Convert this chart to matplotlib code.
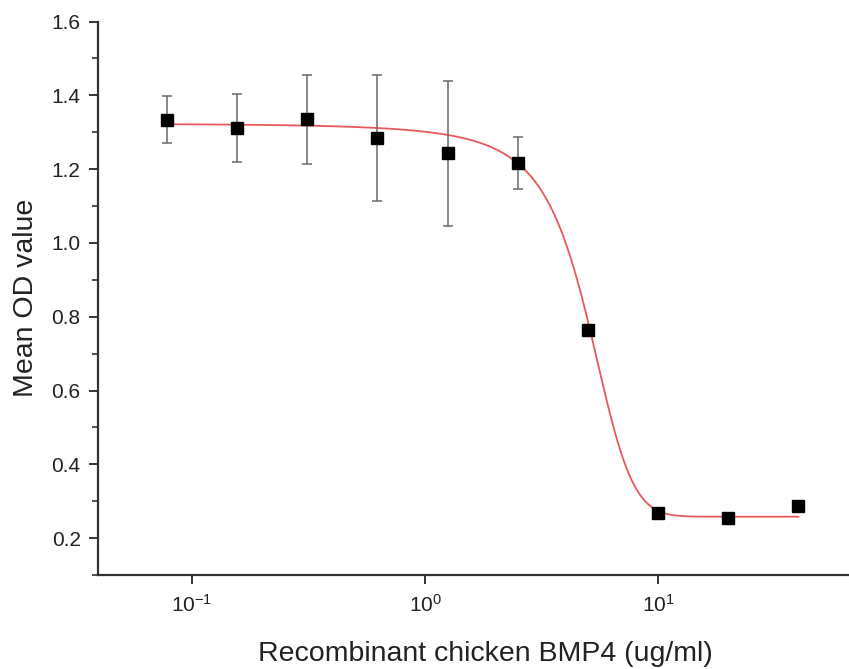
import numpy as np
import matplotlib
matplotlib.use("Agg")
import matplotlib.pyplot as plt
from matplotlib.ticker import NullLocator, MultipleLocator, LogLocator, FormatStrFormatter

# ---- data ----
conc = [0.078125, 0.15625, 0.3125, 0.625, 1.25, 2.5, 5, 10, 20, 40]
mean_od = [1.334, 1.311, 1.335, 1.284, 1.243, 1.217, 0.763, 0.269, 0.255, 0.287]
sd_od = [0.064, 0.092, 0.120, 0.171, 0.197, 0.070, 0.012, 0.008, 0.006, 0.006]

# Boltzmann sigmoid fit parameters (estimated from the drawn red curve)
fit_A1 = 1.340
fit_A2 = 0.258
fit_x0 = 4.95
fit_dx = 1.2

x_label = "Recombinant chicken BMP4 (ug/ml)"
y_label = "Mean OD value"
y_ticks = [0.2, 0.4, 0.6, 0.8, 1.0, 1.2, 1.4, 1.6]

plt.rcParams['font.family'] = ['Liberation Sans', 'DejaVu Sans']
plt.rcParams['mathtext.fontset'] = 'custom'
plt.rcParams['mathtext.rm'] = 'Liberation Sans'
plt.rcParams['mathtext.it'] = 'Liberation Sans:italic'
plt.rcParams['mathtext.bf'] = 'Liberation Sans:bold'

fig = plt.figure(figsize=(8.49, 6.69), dpi=100)
# axes extend slightly past the right edge (reference is cropped there)
ax = fig.add_axes([98/849, 94/669, (872 - 98)/849, (575.2 - 21.7)/669])

xs = np.logspace(np.log10(conc[0]), np.log10(conc[-1]), 600)
ys = fit_A2 + (fit_A1 - fit_A2) / (1 + np.exp((xs - fit_x0) / fit_dx))
ax.plot(xs, ys, color='#e8585c', lw=1.3, zorder=2)

ax.errorbar(conc, mean_od, yerr=sd_od, fmt='none', ecolor='#6a6a6a',
            elinewidth=1.1, capsize=3.8, capthick=1.1, zorder=3)
ax.plot(conc, mean_od, linestyle='none', marker='s', markersize=8.6,
        color='black', zorder=4)

ax.set_xscale('log')
ax.set_xlim(10**-1.4034, 10**1.918)
ax.set_ylim(0.1, 1.6)
ax.xaxis.set_major_locator(LogLocator(base=10, numticks=10))
ax.xaxis.set_minor_locator(NullLocator())
ax.set_yticks(y_ticks)
ax.yaxis.set_minor_locator(MultipleLocator(0.1))
ax.yaxis.set_major_formatter(FormatStrFormatter('%.1f'))

for s in ['top', 'right']:
    ax.spines[s].set_visible(False)
for s in ['left', 'bottom']:
    ax.spines[s].set_linewidth(1.6)
    ax.spines[s].set_color('#333333')

ax.tick_params(axis='both', which='major', direction='out', length=6.5,
               width=1.4, color='#333333', labelsize=15, labelcolor='#222222', pad=6)
ax.tick_params(axis='y', which='minor', direction='out', length=4,
               width=1.2, color='#333333')
ax.tick_params(axis='x', which='major', pad=7)

ax.set_xlabel(x_label, fontsize=20.5, color='#222222', labelpad=18)
ax.set_ylabel(y_label, fontsize=20.5, color='#222222', labelpad=9)

fig.savefig('out.png', dpi=100)
